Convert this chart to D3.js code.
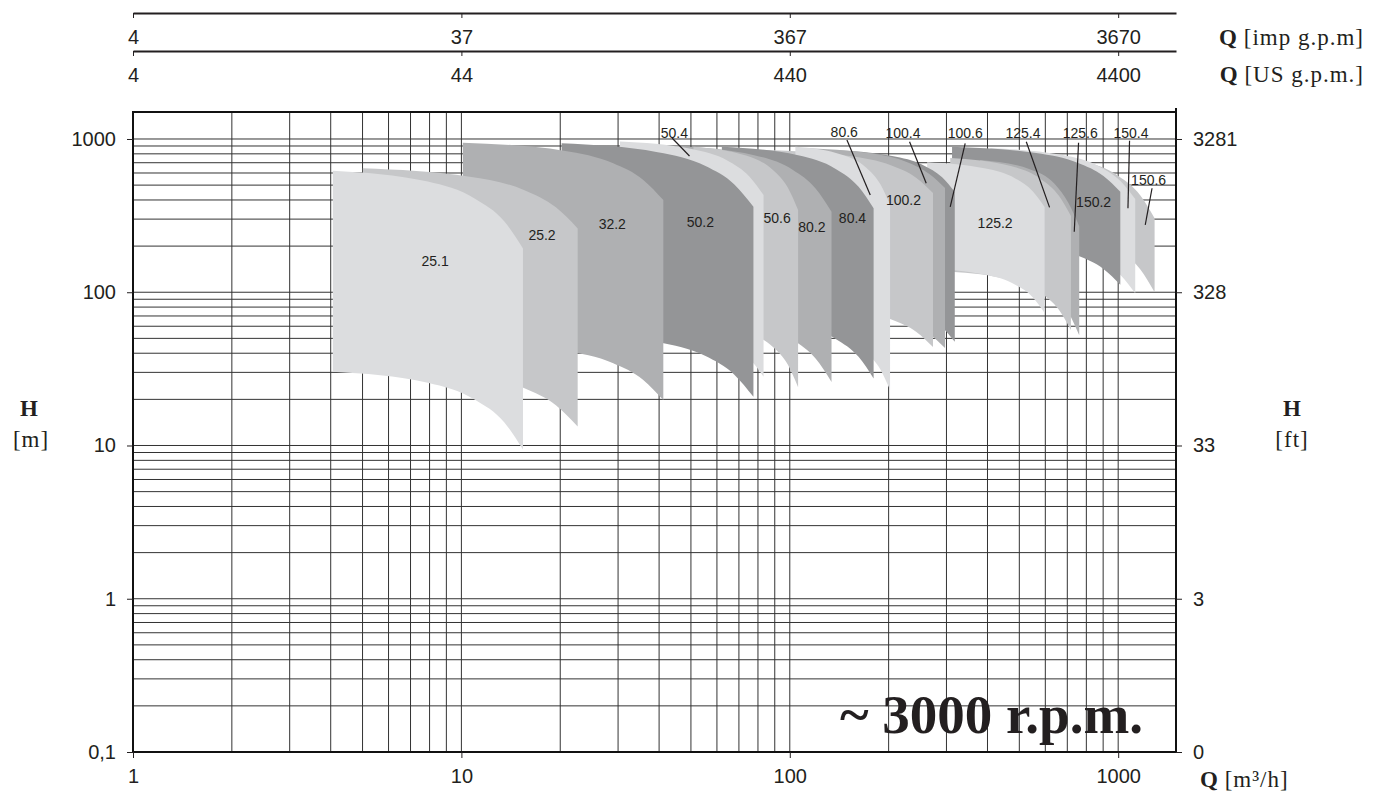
<!DOCTYPE html>
<html>
<head>
<meta charset="utf-8">
<script src="https://cdn.jsdelivr.net/npm/d3@7/dist/d3.min.js"></script>
<style>
  body { margin: 0; background: #fff; }
</style>
</head>
<body>
<div id="chart"></div>
<script>
// Pump models (hydraulic fields at ~3000 rpm)
const models = ['25.1','25.2','32.2','50.2','50.4','50.6','80.2','80.4','80.6',
                '100.2','100.4','100.6','125.2','125.4','125.6','150.2','150.4','150.6']

// Flow points along each field, m3/h
const flow = [
  [4.06, 7.9, 11.0, 13.5, 15.4],
  [5.01, 10.6, 15.5, 19.4, 22.6],
  [10.1, 20.5, 29.0, 35.8, 41.2],
  [20.2, 39.6, 55.4, 67.8, 77.5],
  [30.4, 50.3, 64.7, 75.2, 83.2],
  [50.9, 73.6, 88.5, 98.7, 106],
  [45.1, 77.9, 102, 120, 134],
  [62.1, 106, 138, 162, 180],
  [104, 145, 171, 189, 202],
  [84.8, 152, 204, 243, 273],
  [108, 179, 228, 266, 297],
  [133, 205, 255, 291, 318],
  [262, 395, 486, 550, 597],
  [308, 471, 581, 660, 718],
  [380, 538, 640, 705, 761],
  [312, 563, 755, 902, 1015],
  [408, 678, 875, 1018, 1127],
  [469, 778, 1002, 1167, 1291]
]

// Head at max number of stages, m
const headMax = [
  [621, 527, 408, 291, 193],
  [644, 567, 465, 358, 261],
  [946, 839, 694, 541, 400],
  [937, 820, 666, 505, 361],
  [963, 860, 721, 571, 431],
  [891, 779, 632, 480, 344],
  [900, 784, 630, 474, 335],
  [891, 783, 638, 488, 353],
  [891, 787, 650, 504, 371],
  [848, 774, 671, 557, 444],
  [873, 803, 704, 591, 479],
  [848, 775, 675, 562, 451],
  [705, 641, 553, 455, 360],
  [752, 666, 549, 426, 314],
  [729, 635, 510, 383, 270],
  [891, 810, 698, 574, 453],
  [873, 785, 662, 530, 406],
  [823, 715, 574, 430, 304]
]

// Head at min number of stages, m
const headMin = [
  [30.3, 25.7, 19.9, 14.2, 9.4],
  [32.8, 28.9, 23.7, 18.3, 13.3],
  [46.8, 41.5, 34.4, 26.8, 19.8],
  [53.9, 47.2, 38.3, 29.0, 20.8],
  [62.8, 56.1, 47.0, 37.2, 28.1],
  [62.3, 54.5, 44.2, 33.6, 24.0],
  [69.9, 60.9, 49.0, 36.8, 26.0],
  [69.2, 60.8, 49.6, 37.9, 27.4],
  [55.2, 48.8, 40.3, 31.2, 23.0],
  [83.8, 76.5, 66.3, 55.0, 43.9],
  [78.8, 72.5, 63.6, 53.4, 43.3],
  [89.4, 81.7, 71.1, 59.2, 47.5],
  [143, 130, 112, 92.5, 73.2],
  [136, 120, 99.0, 76.8, 56.6],
  [142, 123, 99.1, 74.4, 52.5],
  [220, 200, 173, 142, 112],
  [212, 190, 161, 129, 98.4],
  [271, 235, 189, 141, 100]
]

// Where each model name sits (m3/h, m) and its leader line, if any
const labelQ = [8.32, 17.6, 28.8, 53.4, 44.5, 91.5, 116.8, 155.2, 146.5, 222, 221.1, 342.1, 422, 512.9, 766.5, 842, 1094, 1238]
const labelH = [160, 236, 279, 287, 1089, 304, 268, 304, 1116, 400, 1089, 1089, 282, 1089, 1089, 390, 1089, 540]
const leadFromQ = [null, null, null, null, 43.8, null, null, null, 149.3, null, 231.6, 342.1, null, 525, 757.5, null, 1083, 1268]
const leadFromH = [null, null, null, null, 1015, null, null, null, 985, null, 960, 937, null, 960, 946, null, 975, 477]
const leadToQ = [null, null, null, null, 49.5, null, null, null, 175.8, null, 260.3, 308, null, 618.1, 735, null, 1071, 1209]
const leadToH = [null, null, null, null, 774, null, null, null, 431, null, 514, 361, null, 358, 248, null, 353, 275]

// Axis ticks
const qDecades = [1, 10, 100, 1000]
const qLabels = ['1', '10', '100', '1000']
const impLabels = ['4', '37', '367', '3670']
const usLabels = ['4', '44', '440', '4400']
const hDecades = [0.1, 1, 10, 100, 1000]
const hLabels = ['0,1', '1', '10', '100', '1000']
const ftLabels = ['0', '3', '33', '328', '3281']

// Styles
const shades = ['#dcdddf', '#c6c7c9', '#afb0b2', '#949597']
const ink = '#231f20'
const sans = '"Liberation Sans", Arial, sans-serif'
const serif = '"Liberation Serif", "Times New Roman", serif'

var width = 1385
var height = 792

const svg = d3.select('#chart').append('svg')
  .attr('width', width)
  .attr('height', height)
  .style('display', 'block')

// Scales
const x = d3.scaleLog().domain([1, 1500]).range([133, 1176])
const y = d3.scaleLog().domain([0.1, 1500]).range([752, 112])

// Grid
const grid = svg.append('g')
grid.selectAll('.gx')
  .data(x.ticks())
  .enter().append('line')
  .attr('x1', d => x(d)).attr('x2', d => x(d))
  .attr('y1', y.range()[0]).attr('y2', y.range()[1])
  .attr('stroke', '#333').attr('stroke-width', 1)
grid.selectAll('.gy')
  .data(y.ticks())
  .enter().append('line')
  .attr('x1', x.range()[0]).attr('x2', x.range()[1])
  .attr('y1', d => y(d)).attr('y2', d => y(d))
  .attr('stroke', '#333').attr('stroke-width', 1)

// Model fields, biggest at the back
const area = d3.area()
  .x(d => x(d.q))
  .y0(d => y(d.lo))
  .y1(d => y(d.hi))
  .curve(d3.curveMonotoneX)

const fields = models.map((m, i) => ({
  name: m,
  i: i,
  pts: flow[i].map((q, k) => ({ q: q, hi: headMax[i][k], lo: headMin[i][k] }))
}))

svg.append('g')
  .selectAll('path')
  .data(fields.slice().reverse())
  .enter().append('path')
  .attr('d', d => area(d.pts))
  .attr('fill', d => shades[d.i % 4])

// Leader lines and model names
const labels = svg.append('g')
labels.selectAll('line')
  .data(fields.filter(d => leadFromQ[d.i] !== null))
  .enter().append('line')
  .attr('x1', d => x(leadFromQ[d.i])).attr('y1', d => y(leadFromH[d.i]))
  .attr('x2', d => x(leadToQ[d.i])).attr('y2', d => y(leadToH[d.i]))
  .attr('stroke', ink).attr('stroke-width', 1.2)

labels.selectAll('text')
  .data(fields)
  .enter().append('text')
  .attr('x', d => x(labelQ[d.i]))
  .attr('y', d => y(labelH[d.i]))
  .attr('dy', '0.36em')
  .attr('text-anchor', 'middle')
  .attr('font-family', sans)
  .attr('font-size', 14)
  .attr('fill', ink)
  .text(d => d.name)

// Frame
svg.append('rect')
  .attr('x', x.range()[0]).attr('y', y.range()[1])
  .attr('width', x.range()[1] - x.range()[0])
  .attr('height', y.range()[0] - y.range()[1])
  .attr('fill', 'none').attr('stroke', '#111').attr('stroke-width', 2)
svg.append('line')
  .attr('x1', x.range()[1]).attr('x2', x.range()[1])
  .attr('y1', y.range()[1] - 4).attr('y2', y.range()[1])
  .attr('stroke', '#111').attr('stroke-width', 2)

// Axes
function styleAxis(g, size) {
  g.attr('font-family', sans).attr('font-size', size)
  g.selectAll('text').attr('fill', ink)
  g.selectAll('line').attr('stroke', ink)
  g.select('.domain').attr('stroke', ink)
}

svg.append('g')
  .attr('transform', 'translate(' + x.range()[0] + ',0)')
  .call(d3.axisLeft(y).tickValues(hDecades).tickFormat((d, i) => hLabels[i]).tickSize(6).tickPadding(11))
  .call(g => g.select('.domain').remove())
  .call(g => styleAxis(g, 20))

svg.append('g')
  .attr('transform', 'translate(' + x.range()[1] + ',0)')
  .call(d3.axisRight(y).tickValues(hDecades).tickFormat((d, i) => ftLabels[i]).tickSize(6).tickPadding(11))
  .call(g => g.select('.domain').remove())
  .call(g => styleAxis(g, 20))

svg.append('g')
  .attr('transform', 'translate(0,' + y.range()[0] + ')')
  .call(d3.axisBottom(x).tickValues(qDecades).tickFormat((d, i) => qLabels[i]).tickSize(6).tickPadding(11))
  .call(g => g.select('.domain').remove())
  .call(g => styleAxis(g, 20))

// Top scales in imperial and US gallons per minute
svg.append('g')
  .attr('transform', 'translate(0,13)')
  .call(d3.axisBottom(x).tickValues(qDecades).tickFormat((d, i) => impLabels[i]).tickSize(5).tickSizeOuter(0).tickPadding(12))
  .call(g => styleAxis(g, 20))
  .call(g => g.select('.domain').attr('stroke-width', 2))

svg.append('g')
  .attr('transform', 'translate(0,51)')
  .call(d3.axisBottom(x).tickValues(qDecades).tickFormat((d, i) => usLabels[i]).tickSize(5).tickSizeOuter(0).tickPadding(12))
  .call(g => styleAxis(g, 20))
  .call(g => g.select('.domain').attr('stroke-width', 2))

// Axis titles
function unitTitle(xPos, yPos, anchor, bold, rest) {
  const t = svg.append('text')
    .attr('x', xPos).attr('y', yPos)
    .attr('text-anchor', anchor)
    .attr('font-family', serif)
    .attr('font-size', 23)
    .attr('fill', ink)
  t.append('tspan').attr('font-weight', 'bold').text(bold)
  if (rest) t.append('tspan').attr('letter-spacing', 1).text(rest)
  return t
}

unitTitle(1364, 45, 'end', 'Q', ' [imp g.p.m]')
unitTitle(1364, 82, 'end', 'Q', ' [US g.p.m.]')
unitTitle(1200, 787, 'start', 'Q', ' [m\u00b3/h]')

unitTitle(29, 416, 'middle', 'H', null)
svg.append('text').attr('x', 31).attr('y', 447).attr('text-anchor', 'middle')
  .attr('font-family', serif).attr('font-size', 23).attr('letter-spacing', 1).attr('fill', ink).text('[m]')

unitTitle(1292, 416, 'middle', 'H', null)
svg.append('text').attr('x', 1292).attr('y', 447).attr('text-anchor', 'middle')
  .attr('font-family', serif).attr('font-size', 23).attr('letter-spacing', 1).attr('fill', ink).text('[ft]')

// Speed note
svg.append('text')
  .attr('x', 1143).attr('y', 733)
  .attr('text-anchor', 'end')
  .attr('font-family', serif)
  .attr('font-weight', 'bold')
  .attr('font-size', 55)
  .attr('fill', ink)
  .text('~ 3000 r.p.m.')
</script>
</body>
</html>
